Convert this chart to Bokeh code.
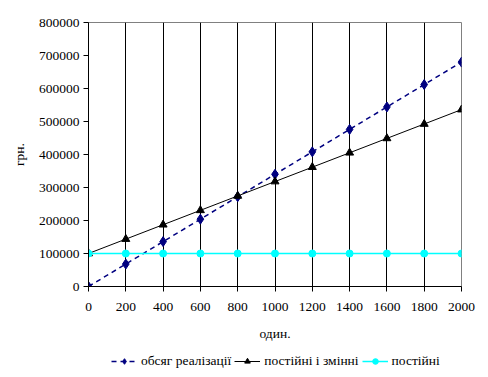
from bokeh.plotting import figure
from bokeh.layouts import column
from bokeh.models import Legend, LegendItem, FixedTicker, NumeralTickFormatter, Range1d
from bokeh.embed import file_html
from bokeh.resources import INLINE

units = [0, 200, 400, 600, 800, 1000, 1200, 1400, 1600, 1800, 2000]
sales = [0, 68000, 136000, 204000, 272000, 340000, 408000, 476000, 544000, 612000, 680000]
total_costs = [100000, 143600, 187200, 230800, 274400, 318000, 361600, 405200, 448800, 492400, 536000]
fixed_costs = [100000] * 11
y_ticks = [0, 100000, 200000, 300000, 400000, 500000, 600000, 700000, 800000]
names = ["обсяг реалізації", "постійні і змінні", "постійні"]

FONT = "Liberation Serif"

styles = [
    dict(color="#000080", width=1.5, dash="5 4", marker="diamond", size=10),
    dict(color="black", width=1, dash="solid", marker="triangle", size=8),
    dict(color="#00FFFF", width=1.5, dash="solid", marker="circle", size=7),
]
series = [sales, total_costs, fixed_costs]

p = figure(width=488, height=348, output_backend="svg", toolbar_location=None,
           x_range=Range1d(0, 2000), y_range=Range1d(0, 800000),
           min_border_left=88, min_border_right=27, min_border_top=22, min_border_bottom=62)
p.background_fill_color = "white"
p.border_fill_color = "white"
p.outline_line_color = "#808080"
p.outline_line_width = 1

p.xaxis.ticker = FixedTicker(ticks=units)
p.yaxis.ticker = FixedTicker(ticks=y_ticks)
p.yaxis.formatter = NumeralTickFormatter(format="0")
p.xgrid.ticker = FixedTicker(ticks=units[1:-1])
p.xgrid.grid_line_color = "black"
p.xgrid.grid_line_width = 1
p.ygrid.grid_line_color = None

for ax in (p.xaxis, p.yaxis):
    ax.axis_line_color = "black"
    ax.major_tick_line_color = "black"
    ax.major_tick_out = 5
    ax.major_tick_in = 0
    ax.minor_tick_line_color = None
    ax.major_label_text_font = FONT
    ax.major_label_text_font_size = "13.5px"
    ax.major_label_text_color = "black"
    ax.axis_label_text_font = FONT
    ax.axis_label_text_font_size = "13.5px"
    ax.axis_label_text_font_style = "normal"
    ax.axis_label_text_color = "black"

p.xaxis.axis_label = "один."
p.yaxis.axis_label = "грн."
p.xaxis.major_label_standoff = 11
p.xaxis.axis_label_standoff = 12
p.yaxis.major_label_standoff = 4
p.yaxis.axis_label_standoff = 9

for ys, st in zip(series, styles):
    p.line(units, ys, line_color=st["color"], line_width=st["width"], line_dash=st["dash"])
    p.scatter(units, ys, marker=st["marker"], size=st["size"],
              fill_color=st["color"], line_color=st["color"])

# Legend strip below the chart (series drawn off-range; only the legend shows)
lg = figure(width=488, height=29, output_backend="svg", toolbar_location=None,
            x_range=Range1d(-20, -10), y_range=Range1d(-20, -10),
            min_border=0, x_axis_location=None, y_axis_location=None)
lg.outline_line_color = None
lg.grid.visible = False
lg.background_fill_color = "white"
lg.border_fill_color = "white"

items = []
for name, ys, st in zip(names, series, styles):
    rl = lg.line(units, ys, line_color=st["color"], line_width=st["width"], line_dash=st["dash"])
    rm = lg.scatter(units, ys, marker=st["marker"], size=st["size"],
                    fill_color=st["color"], line_color=st["color"])
    items.append(LegendItem(label=name, renderers=[rl, rm]))

legend = Legend(items=items, location=(23, 8), orientation="horizontal",
                label_text_font=FONT, label_text_font_size="13.5px",
                label_text_color="black", glyph_width=26, glyph_height=14,
                label_height=14, label_standoff=4,
                spacing=3, padding=3, margin=0, border_line_color=None,
                background_fill_alpha=0)
lg.add_layout(legend, "center")

layout = column(p, lg, spacing=0)
open("out.html", "w").write(file_html(layout, INLINE))
